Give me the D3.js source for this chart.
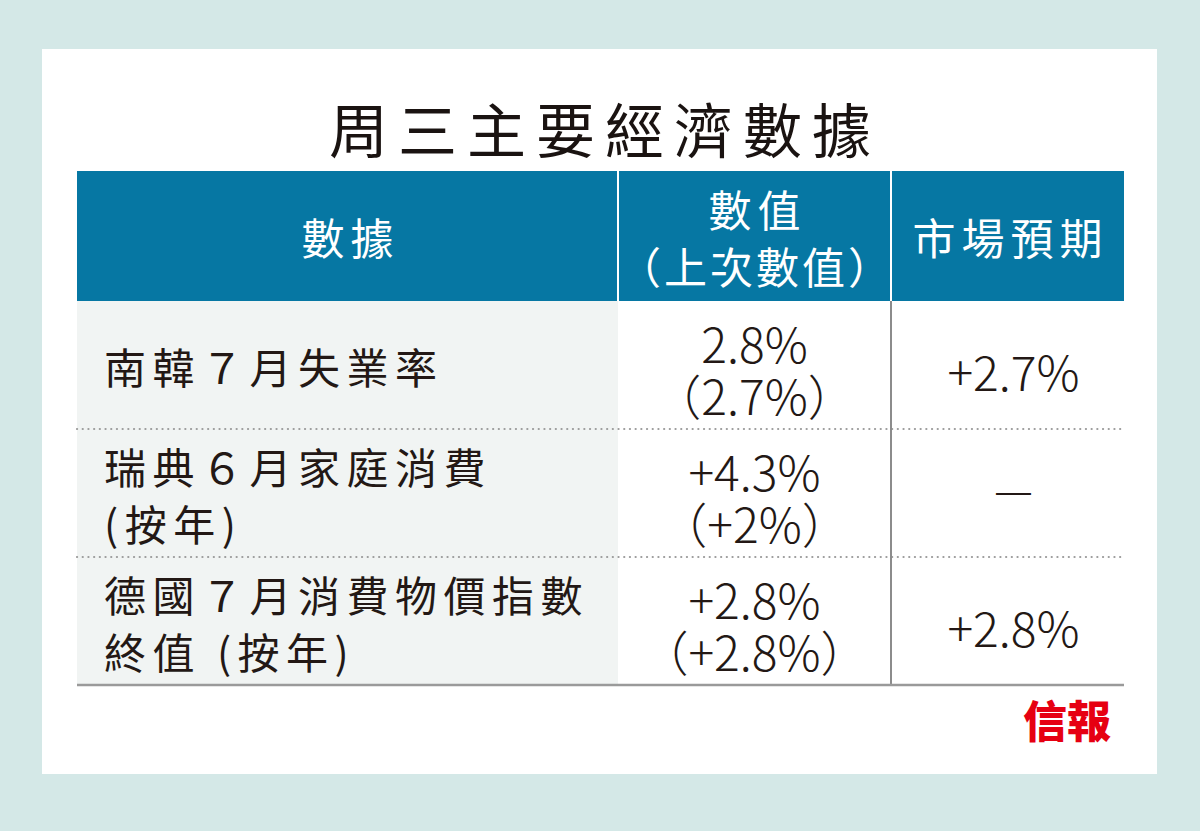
<!DOCTYPE html>
<html>
<head>
<meta charset="utf-8">
<script src="https://cdn.jsdelivr.net/npm/d3@7"></script>
<style>
  html, body { margin: 0; padding: 0; background: #d4e8e7; }
  svg text { font-family: "Noto Sans CJK TC", "Noto Sans CJK SC", sans-serif; }
</style>
</head>
<body>
<svg id="chart"></svg>
<script>
// table contents
const title = "周三主要經濟數據";
const headers = [["數據"], ["數值", "（上次數值）"], ["市場預期"]];
const indicators = [
    ["南韓７月失業率"],
    ["瑞典６月家庭消費", "(按年)"],
    ["德國７月消費物價指數", "終值 (按年)"]
];
const actualValues = ["2.8%", "+4.3%", "+2.8%"];
const previousValues = ["2.7%", "+2%", "+2.8%"];
const forecasts = ["+2.7%", "—", "+2.8%"];
const source = "信報";

const width = 1200, height = 831;
const svg = d3.select("#chart").attr("width", width).attr("height", height);

// panel
svg.append("rect").attr("width", width).attr("height", height).attr("fill", "#d4e8e7");
svg.append("rect")
    .attr("x", 42).attr("y", 49)
    .attr("width", 1115).attr("height", 725)
    .attr("fill", "#ffffff");

// scales
const colEdges = [77, 618, 891, 1124];
const colIdx = [0, 1, 2];
const xLeft = d3.scaleOrdinal().domain(colIdx).range(colEdges.slice(0, 3));
const xRight = d3.scaleOrdinal().domain(colIdx).range(colEdges.slice(1));
const xMid = i => (xLeft(i) + xRight(i)) / 2;

const headerTop = 171, headerBottom = 301;
const y = d3.scaleBand()
    .domain(d3.range(indicators.length))
    .range([headerBottom, 685])
    .padding(0);

const ink = "#231815";

// title
svg.append("text")
    .attr("x", 600 + 5).attr("y", 127)
    .attr("text-anchor", "middle")
    .attr("dominant-baseline", "central")
    .attr("font-size", 59)
    .attr("font-weight", 400)
    .attr("letter-spacing", 10)
    .attr("fill", "#1a1311")
    .text(title);

// header band
svg.append("rect")
    .attr("x", colEdges[0]).attr("y", headerTop)
    .attr("width", colEdges[3] - colEdges[0]).attr("height", headerBottom - headerTop)
    .attr("fill", "#0677a3");

svg.selectAll(".head-div")
    .data([1, 2])
    .enter().append("line")
    .attr("class", "head-div")
    .attr("x1", d => xLeft(d)).attr("x2", d => xLeft(d))
    .attr("y1", headerTop).attr("y2", headerBottom)
    .attr("stroke", "#ffffff").attr("stroke-width", 2);

// multi-line text as one <text> with tspans
function multiline(sel, lines, x, lineH) {
    lines.forEach((t, k) => {
        sel.append("tspan")
            .attr("x", x)
            .attr("dy", k === 0 ? -(lines.length - 1) / 2 * lineH : lineH)
            .text(t);
    });
}

const headerLine = 57;
headers.forEach((lines, c) => {
    const cy = (headerTop + headerBottom) / 2;
    lines.forEach((t, k) => {
        const sp = t.length > 4 ? 3 : 6;
        svg.append("text")
            .attr("x", xMid(c) + sp / 2)
            .attr("y", cy + (k - (lines.length - 1) / 2) * headerLine)
            .attr("text-anchor", "middle")
            .attr("dominant-baseline", "central")
            .attr("font-size", 43)
            .attr("letter-spacing", sp)
            .attr("fill", "#ffffff")
            .text(t);
    });
});

// first column background
svg.append("rect")
    .attr("x", xLeft(0)).attr("y", y(0))
    .attr("width", xRight(0) - xLeft(0)).attr("height", y.bandwidth() * indicators.length)
    .attr("fill", "#f1f4f3");

// dotted row separators
svg.selectAll(".row-sep")
    .data(d3.range(1, indicators.length))
    .enter().append("line")
    .attr("class", "row-sep")
    .attr("x1", colEdges[0]).attr("x2", colEdges[3])
    .attr("y1", d => y(d)).attr("y2", d => y(d))
    .attr("stroke", "#9a9a9a")
    .attr("stroke-width", 2.2)
    .attr("stroke-dasharray", "0.1,5.6")
    .attr("stroke-linecap", "round");

// vertical divider between value and forecast columns
svg.append("line")
    .attr("x1", xLeft(2)).attr("x2", xLeft(2))
    .attr("y1", headerBottom).attr("y2", y(indicators.length - 1) + y.bandwidth())
    .attr("stroke", "#8c8c8c").attr("stroke-width", 2);

// bottom rule
svg.append("line")
    .attr("x1", colEdges[0]).attr("x2", colEdges[3])
    .attr("y1", 685).attr("y2", 685)
    .attr("stroke", "#9a9a9a").attr("stroke-width", 2.5);

// body cells
const rows = svg.selectAll(".row")
    .data(indicators.map((d, i) => ({
        name: d,
        value: [actualValues[i], "（" + previousValues[i] + "）"],
        forecast: forecasts[i],
        i: i
    })))
    .enter().append("g")
    .attr("class", "row")
    .attr("transform", d => `translate(0,${y(d.i) + y.bandwidth() / 2})`);

rows.each(function(d) {
    const g = d3.select(this);
    // indicator names
    g.append("text")
        .attr("y", 0)
        .attr("dominant-baseline", "central")
        .attr("font-size", 42)
        .attr("letter-spacing", 6.5)
        .attr("fill", ink)
        .call(multiline, d.name, xLeft(0) + 27, 57);
    // value (previous)
    g.append("text")
        .attr("y", 3)
        .attr("text-anchor", "middle")
        .attr("dominant-baseline", "central")
        .attr("font-size", 48)
        .attr("font-weight", 300)
        .attr("fill", ink)
        .call(multiline, d.value, xMid(1), 52);
    // market forecast
    const isDash = d.forecast === "—";
    g.append("text")
        .attr("x", xMid(2) + 6)
        .attr("y", isDash ? -6 : 5)
        .attr("text-anchor", "middle")
        .attr("dominant-baseline", "central")
        .attr("font-size", isDash ? 44 : 48)
        .attr("font-weight", 300)
        .attr("fill", ink)
        .text(d.forecast);
});

// source logo
svg.append("text")
    .attr("x", 1111).attr("y", 719)
    .attr("text-anchor", "end")
    .attr("dominant-baseline", "central")
    .attr("font-size", 44)
    .attr("font-weight", 900)
    .attr("fill", "#e60012")
    .text(source);
</script>
</body>
</html>
